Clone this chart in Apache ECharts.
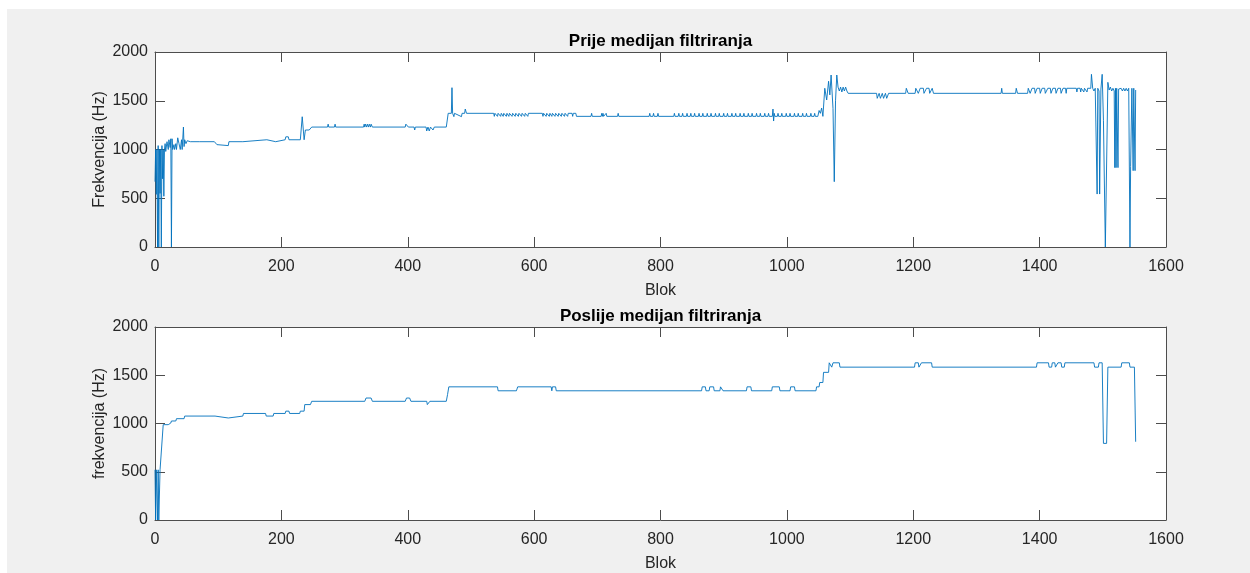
<!DOCTYPE html>
<html>
<head>
<meta charset="utf-8">
<script src="https://cdn.jsdelivr.net/npm/echarts@6/dist/echarts.min.js"></script>
<style>
  html, body { margin: 0; padding: 0; background: #fff; }
  #chart { position: absolute; left: 7px; top: 9px; width: 1243px; height: 564px; }
</style>
</head>
<body>
<div id="chart"></div>
<script>
// Frekvencija po bloku, prije i poslije median filtra (ocitano sa slike)

const xTicks = [0, 200, 400, 600, 800, 1000, 1200, 1400, 1600];
const yTicks = [0, 500, 1000, 1500, 2000];

// [blok, Hz]
const prijeStart = [
  [0, 670], [1, 1000], [2, 540], [3, 1000], [4, 0], [5, 1040], [6, 0], [7, 1000], [8, 550], [9, 1000],
  [10, 0], [11, 1040], [12, 700], [13, 1000], [14, 520], [15, 1000], [16, 1060], [17, 980], [19, 1080],
  [21, 1000], [22, 1100], [24, 1020], [25, 1110], [26, 0], [27, 1110], [28, 1000], [30, 1050], [31, 1000],
  [33, 1060], [34, 1000], [36, 1120], [38, 1060], [40, 1000], [42, 1100], [43, 1000], [45, 1230],
  [46, 1030], [47, 1100], [49, 1060], [51, 1090], [53, 1070], [56, 1080]
];

const prijeMid = [
  [70, 1080], [71, 1060], [72, 1080], [94, 1080], [96, 1060], [97, 1075], [98, 1050], [100, 1040],
  [116, 1040], [117, 1080], [139, 1080], [140, 1100], [177, 1100], [178, 1080], [191, 1080], [192, 1100],
  [193, 1080], [194, 1100], [206, 1100], [207, 1130], [211, 1130], [212, 1100], [230, 1100], [233, 1336],
  [235, 1180], [236, 1100], [238, 1200], [241, 1180], [244, 1200], [248, 1230], [273, 1230], [274, 1260],
  [275, 1230], [284, 1230], [285, 1260], [286, 1230], [330, 1230], [331, 1260], [332, 1230], [333, 1260],
  [335, 1230], [336, 1260], [338, 1230], [339, 1260], [341, 1230], [342, 1260], [344, 1230], [396, 1230],
  [397, 1260], [400, 1260], [401, 1230], [410, 1230], [411, 1200], [412, 1230], [429, 1230], [430, 1190],
  [432, 1230], [434, 1190], [436, 1230], [440, 1200], [442, 1230], [461, 1230], [464, 1371], [469, 1371],
  [470, 1634], [471, 1371], [473, 1337], [474, 1371], [485, 1337], [486, 1371], [490, 1371], [491, 1415],
  [493, 1371],
  [536, 1371], [537, 1340], [538, 1371], [541, 1371], [542, 1340], [543, 1371], [546, 1371], [547, 1340],
  [548, 1371], [550, 1371], [551, 1340], [552, 1371], [555, 1371], [556, 1340], [557, 1371], [559, 1371],
  [560, 1340], [561, 1371], [564, 1371], [565, 1340], [566, 1371], [569, 1371], [570, 1340], [571, 1371],
  [574, 1371], [575, 1340], [576, 1371], [579, 1371], [580, 1340], [581, 1371], [584, 1371], [585, 1340],
  [586, 1371], [589, 1371], [590, 1340], [591, 1371],
  [613, 1371], [614, 1340], [615, 1371], [618, 1371], [619, 1340], [620, 1371], [623, 1371], [624, 1340],
  [625, 1371], [627, 1371], [628, 1340], [629, 1371], [632, 1371], [633, 1340], [634, 1371], [637, 1371],
  [638, 1340], [639, 1371], [642, 1371], [643, 1340], [644, 1371], [647, 1371], [648, 1340], [649, 1371],
  [652, 1371], [653, 1340], [654, 1371], [660, 1371], [661, 1340], [662, 1371], [666, 1371], [667, 1340],
  [690, 1340], [691, 1371], [692, 1340], [706, 1340], [707, 1371], [708, 1340],
  [709, 1371], [710, 1340], [713, 1340], [714, 1371], [715, 1340], [732, 1340], [733, 1371], [734, 1340],
  [782, 1340], [783, 1371], [784, 1340], [788, 1340], [789, 1371], [790, 1340], [795, 1340], [796, 1371],
  [797, 1340],
  [821, 1340], [822, 1371], [823, 1340], [828, 1340], [829, 1371], [830, 1340], [834, 1340], [835, 1371],
  [836, 1340], [841, 1340], [842, 1371], [843, 1340], [847, 1340], [848, 1371], [849, 1340], [853, 1340],
  [854, 1371], [855, 1340], [860, 1340], [861, 1371], [862, 1340], [866, 1340], [867, 1371], [868, 1340],
  [873, 1340], [874, 1371], [875, 1340], [879, 1340], [880, 1371], [881, 1340], [886, 1340], [887, 1371],
  [888, 1340], [892, 1340], [893, 1371], [894, 1340], [899, 1340], [900, 1371], [901, 1340], [905, 1340],
  [906, 1371], [907, 1340], [912, 1340], [913, 1371], [914, 1340], [918, 1340], [919, 1371], [920, 1340],
  [925, 1340], [926, 1371], [927, 1340], [931, 1340], [932, 1371], [933, 1340], [938, 1340], [939, 1371],
  [940, 1340], [944, 1340], [945, 1371], [946, 1340], [951, 1340], [952, 1371], [953, 1340], [957, 1340],
  [958, 1371], [959, 1340], [964, 1340], [965, 1371], [966, 1340], [970, 1340], [971, 1371], [972, 1340],
  [977, 1340], [978, 1415], [979, 1292], [980, 1371], [981, 1340],
  [985, 1340], [986, 1371], [987, 1340], [991, 1340], [992, 1371], [993, 1340], [998, 1340], [999, 1371],
  [1000, 1340], [1004, 1340], [1005, 1371], [1006, 1340], [1011, 1340], [1012, 1371], [1013, 1340],
  [1017, 1340], [1018, 1371], [1019, 1340], [1024, 1340], [1025, 1371], [1026, 1340], [1030, 1340],
  [1031, 1371], [1032, 1340], [1037, 1340], [1038, 1371], [1039, 1340], [1043, 1340], [1044, 1371],
  [1045, 1340], [1049, 1340], [1051, 1400], [1053, 1371], [1055, 1425], [1057, 1340]
];

const prijeEnd = [
  [1060, 1628], [1063, 1508], [1066, 1700], [1068, 1560], [1070, 1764], [1073, 1420], [1075, 670],
  [1077, 1500], [1079, 1764], [1081, 1640], [1083, 1600], [1085, 1640], [1087, 1590], [1089, 1640],
  [1091, 1600], [1093, 1640], [1095, 1600], [1097, 1576], [1142, 1576], [1143, 1525], [1146, 1576],
  [1148, 1525], [1151, 1576], [1153, 1525], [1156, 1576], [1158, 1525], [1161, 1576], [1188, 1576],
  [1189, 1628], [1191, 1628], [1192, 1576], [1203, 1576], [1204, 1628], [1207, 1628], [1208, 1576],
  [1210, 1576], [1211, 1628], [1216, 1628], [1217, 1576], [1220, 1576], [1221, 1628], [1225, 1628],
  [1226, 1576], [1229, 1576], [1230, 1628], [1231, 1628], [1232, 1576], [1339, 1576], [1340, 1628],
  [1341, 1576], [1362, 1576], [1363, 1628], [1364, 1628], [1365, 1576], [1381, 1576], [1382, 1628],
  [1384, 1628], [1385, 1576], [1387, 1576], [1388, 1628], [1392, 1628], [1393, 1576], [1395, 1576],
  [1396, 1628], [1400, 1628], [1401, 1576], [1403, 1576], [1404, 1628], [1408, 1628], [1409, 1576],
  [1412, 1576], [1413, 1628], [1417, 1628], [1418, 1576], [1420, 1576], [1421, 1628], [1425, 1628],
  [1426, 1576], [1428, 1576], [1429, 1628], [1433, 1628], [1434, 1576], [1436, 1576], [1437, 1628],
  [1441, 1628], [1442, 1576], [1443, 1628], [1458, 1628], [1459, 1590], [1460, 1628], [1464, 1628],
  [1465, 1590], [1466, 1628], [1469, 1628], [1470, 1590], [1471, 1628], [1474, 1628], [1475, 1590],
  [1476, 1628], [1481, 1628], [1482, 1771], [1484, 1628], [1486, 1600], [1488, 1628], [1491, 543],
  [1492, 1628], [1494, 1600], [1495, 543], [1497, 1620], [1499, 1771], [1501, 1300], [1504, 0], [1506, 0],
  [1508, 1689], [1510, 1610], [1512, 1640], [1514, 1600], [1516, 1628], [1518, 1600], [1519, 814],
  [1520, 1628], [1521, 814], [1522, 1628], [1524, 814], [1525, 1620], [1527, 1600], [1529, 1628],
  [1531, 1600], [1533, 1628], [1535, 1600], [1537, 1628], [1539, 1600], [1541, 1628], [1543, 0],
  [1544, 825], [1546, 1628], [1548, 783], [1549, 1628], [1551, 783], [1552, 1610]
];

const poslijeStart = [
  [0, 520], [1, 0], [2, 520], [3, 520], [4, 0], [5, 520], [6, 0], [7, 0], [8, 520], [10, 520],
  [13, 988], [21, 988], [22, 1005], [25, 1005], [26, 1026], [33, 1026], [34, 1050], [46, 1050],
  [47, 1077], [95, 1077], [96, 1057], [116, 1057], [117, 1077], [139, 1077], [140, 1104], [175, 1104],
  [176, 1077], [187, 1077], [188, 1104], [206, 1104], [207, 1128], [212, 1128], [213, 1104], [229, 1104],
  [230, 1128], [236, 1128], [237, 1196], [246, 1196], [248, 1230]
];

const poslijeRest = [
  [332, 1230], [334, 1264], [342, 1264], [344, 1230], [396, 1230], [398, 1264], [403, 1264], [405, 1230],
  [430, 1230], [431, 1196], [434, 1196], [435, 1230], [461, 1230], [463, 1300], [465, 1380], [542, 1380],
  [543, 1339], [572, 1339], [574, 1380], [627, 1380], [628, 1339], [629, 1380], [634, 1380], [635, 1339],
  [865, 1339], [866, 1380], [871, 1380], [872, 1339], [877, 1339], [878, 1380], [884, 1380], [885, 1339],
  [894, 1339], [895, 1380], [898, 1380], [899, 1339], [936, 1339], [937, 1380], [943, 1380], [944, 1339],
  [976, 1339], [977, 1380], [988, 1380], [989, 1339], [1005, 1339], [1006, 1380], [1012, 1380],
  [1013, 1339], [1046, 1339], [1047, 1380], [1051, 1380], [1052, 1425], [1057, 1425], [1058, 1530],
  [1066, 1530], [1067, 1629], [1070, 1629], [1071, 1584], [1072, 1584], [1073, 1629], [1083, 1629],
  [1084, 1584], [1202, 1584], [1203, 1629], [1208, 1629], [1209, 1584], [1212, 1584], [1213, 1629],
  [1229, 1629], [1230, 1584], [1395, 1584], [1396, 1629], [1414, 1629], [1415, 1584], [1419, 1584],
  [1420, 1629], [1424, 1629], [1425, 1584], [1428, 1584], [1429, 1629], [1434, 1629], [1435, 1584],
  [1439, 1584], [1440, 1629], [1486, 1629], [1487, 1584], [1493, 1584], [1494, 1629], [1499, 1629],
  [1501, 794], [1506, 794], [1508, 1584], [1529, 1584], [1530, 1629], [1542, 1629], [1543, 1584],
  [1550, 1584], [1552, 811], [1553, 811]
];

const FONT = '"Liberation Sans", Arial, Helvetica, sans-serif';
const AXIS_COLOR = '#4d4d4d';
const TEXT_COLOR = '#262626';
const LINE_COLOR = '#0072BD';

const chart = echarts.init(document.getElementById('chart'));

function xAxisPair(gi, title) {
  const base = {
    gridIndex: gi, type: 'value',
    min: xTicks[0], max: xTicks[xTicks.length - 1], interval: xTicks[1] - xTicks[0],
    axisLine: { onZero: false, lineStyle: { color: AXIS_COLOR, width: 1 } },
    axisTick: { inside: true, length: 10, lineStyle: { color: AXIS_COLOR } },
    splitLine: { show: false },
  };
  return [
    Object.assign({}, base, {
      position: 'bottom',
      axisLabel: {
        fontSize: 16, color: TEXT_COLOR, fontFamily: FONT, margin: 12,
        showMinLabel: true, showMaxLabel: true, formatter: v => String(v),
      },
      name: 'Blok', nameLocation: 'middle', nameGap: 36,
      nameTextStyle: { fontSize: 16, color: TEXT_COLOR, fontFamily: FONT },
    }),
    Object.assign({}, base, {
      position: 'top',
      axisLabel: { show: false },
      name: title, nameLocation: 'middle', nameGap: 2,
      nameTextStyle: { fontSize: 17, fontWeight: 'bold', color: '#000', fontFamily: FONT },
    }),
  ];
}

function yAxisPair(gi, label) {
  const base = {
    gridIndex: gi, type: 'value',
    min: yTicks[0], max: yTicks[yTicks.length - 1], interval: yTicks[1] - yTicks[0],
    axisLine: { show: true, onZero: false, lineStyle: { color: AXIS_COLOR, width: 1 } },
    axisTick: { show: true, inside: true, length: 10, lineStyle: { color: AXIS_COLOR } },
    splitLine: { show: false },
  };
  return [
    Object.assign({}, base, {
      position: 'left',
      axisLabel: {
        fontSize: 16, color: TEXT_COLOR, fontFamily: FONT, margin: 7,
        showMinLabel: true, showMaxLabel: true, formatter: v => String(v),
      },
      name: label, nameLocation: 'middle', nameRotate: 90, nameGap: 47,
      nameMoveOverlap: false,
      nameTextStyle: { fontSize: 16, color: TEXT_COLOR, fontFamily: FONT },
    }),
    Object.assign({}, base, {
      position: 'right',
      axisLabel: { show: false },
    }),
  ];
}

chart.setOption({
  animation: false,
  backgroundColor: '#f0f0f0',
  grid: [
    { left: 148, top: 43, width: 1011, height: 195, show: true, backgroundColor: '#fff', borderWidth: 0 },
    { left: 148, top: 318, width: 1011, height: 196, show: true, backgroundColor: '#fff', borderWidth: 0 },
  ],
  xAxis: [].concat(xAxisPair(0, 'Prije medijan filtriranja'), xAxisPair(1, 'Poslije medijan filtriranja')),
  yAxis: [].concat(yAxisPair(0, 'Frekvencija (Hz)'), yAxisPair(1, 'frekvencija (Hz)')),
  series: [
    {
      name: 'Prije', type: 'line', xAxisIndex: 0, yAxisIndex: 0,
      data: prijeStart.concat(prijeMid, prijeEnd),
      showSymbol: false, lineStyle: { color: LINE_COLOR, width: 0.9 }, clip: true,
    },
    {
      name: 'Poslije', type: 'line', xAxisIndex: 2, yAxisIndex: 2,
      data: poslijeStart.concat(poslijeRest),
      showSymbol: false, lineStyle: { color: LINE_COLOR, width: 0.9 }, clip: true,
    },
  ],
});
</script>
</body>
</html>
